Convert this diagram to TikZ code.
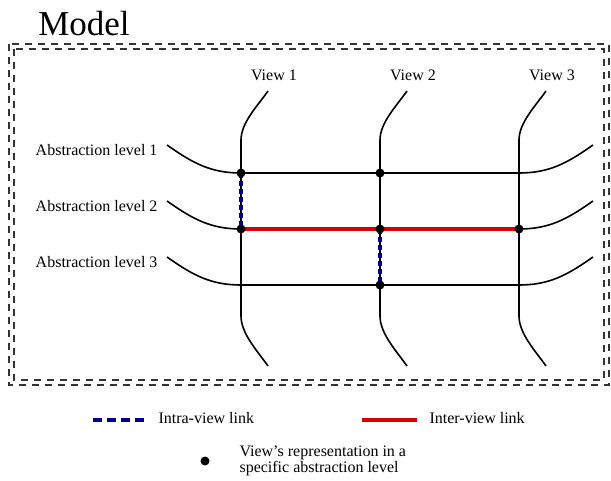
\documentclass[tikz,border=0pt]{standalone}
\usepackage{fontspec}
\setmainfont{Liberation Serif}
\usetikzlibrary{calc}

\begin{document}
\begin{tikzpicture}[x=1pt, y=-1pt,
    line/.style={black, line width=1.6pt},
    frame/.style={black!80, line width=1.9pt, dash pattern=on 7pt off 6pt},
    intra/.style={blue!60!black, line width=3.2pt, dash pattern=on 5pt off 3pt},
    inter/.style={red!85!black, line width=3.2pt},
    vdot/.style={circle, fill=black, inner sep=0pt, minimum size=9pt},
    lbl/.style={font=\fontsize{16}{17}\selectfont}]

    \useasboundingbox (0,0) rectangle (611,480);

    % --- Title and double dashed frame ---
    \node[font=\fontsize{35}{40}\selectfont] (title) at (84,24) {Model};
    \draw[frame] (9,44) rectangle (609,385);
    \draw[frame] (14,49) rectangle (604,380);

    % --- Crossing points ---
    \foreach \v/\x in {1/241, 2/380, 3/519}
        \foreach \l/\y in {1/173, 2/229, 3/285}
            \coordinate (v\v-l\l) at (\x,\y);

    % --- Views (vertical curves) ---
    \foreach \v/\x in {1/241, 2/380, 3/519} {
        \node[lbl] (view\v) at (\x+33,75) {View \v};
        \coordinate (vtop\v) at (\x+27,91);
        \coordinate (vbot\v) at (\x+27,366);
        \draw[line] (vtop\v) to[out=-125,in=90,looseness=0.8] (\x,140) -- (v\v-l1) -- (v\v-l3)
            -- (\x,316) to[out=-90,in=125,looseness=0.8] (vbot\v);
    }

    % --- Abstraction levels (horizontal curves) ---
    \foreach \l/\y in {1/173, 2/229, 3/285} {
        \node[lbl, anchor=east] (level\l) at (161,\y-23) {Abstraction level \l};
        \coordinate (lstart\l) at (167,\y-28);
        \coordinate (lend\l) at (593,\y-28);
        \draw[line] (lstart\l) to[out=-35,in=180] (v1-l\l) -- (v3-l\l)
            to[out=0,in=-145] (lend\l);
    }

    % --- Links ---
    \draw[inter] (v1-l2) -- (v3-l2);
    \draw[intra] (v1-l1) -- (v1-l2);
    \draw[intra] (v2-l2) -- (v2-l3);

    % --- View representations ---
    \foreach \p in {v1-l1, v2-l1, v1-l2, v2-l2, v3-l2, v2-l3}
        \node[vdot] (d-\p) at (\p) {};

    % --- Legend ---
    \coordinate (intraA) at (93,420);
    \coordinate (intraB) at (147,420);
    \draw[intra, dash pattern=on 9pt off 5pt] (intraA) -- (intraB);
    \node[lbl, anchor=west] (intratxt) at (155,418) {Intra-view link};

    \coordinate (interA) at (362,420);
    \coordinate (interB) at (417,420);
    \draw[inter] (interA) -- (interB);
    \node[lbl, anchor=west] (intertxt) at (426,418) {Inter-view link};

    \node[vdot] (legdot) at (205,461) {};
    \node[lbl, anchor=west, align=left, font=\fontsize{16}{16}\selectfont] (dottxt) at (236,461)
        {View's representation in a\\specific abstraction level};

\end{tikzpicture}
\end{document}
